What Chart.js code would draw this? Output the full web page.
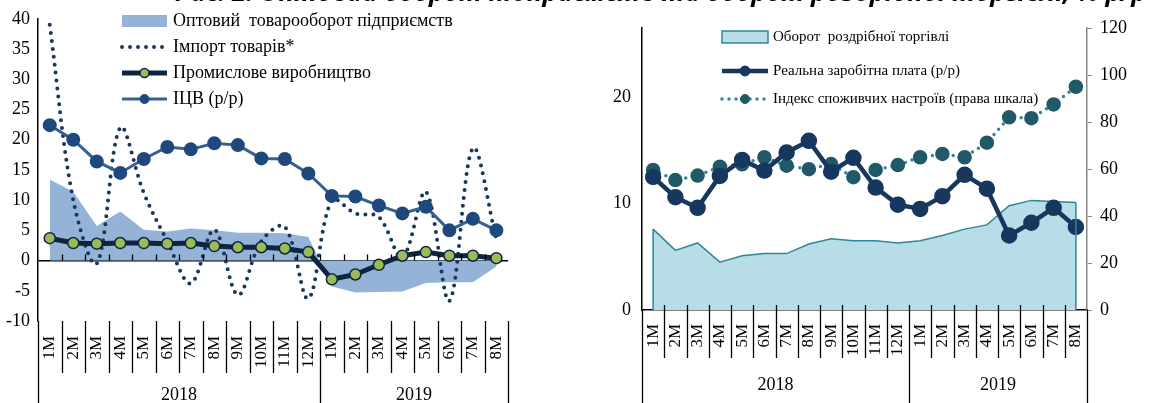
<!DOCTYPE html>
<html>
<head>
<meta charset="utf-8">
<script src="https://cdn.jsdelivr.net/npm/chart.js@4"></script>
<style>
  body { margin: 0; width: 1168px; height: 403px; overflow: hidden; background: #fff; position: relative; }
  #left { position: absolute; left: 0; top: 0; width: 532px; height: 403px; }
  #right { position: absolute; left: 600px; top: 0; width: 568px; height: 403px; }
  #title { position: absolute; left: 175px; top: -26px; white-space: nowrap;
           font: italic bold 25.5px "Open Sans", "DejaVu Sans", sans-serif; color: #000; }
</style>
</head>
<body>
<div id="left"><canvas id="c1"></canvas></div>
<div id="right"><canvas id="c2"></canvas></div>
<div id="title">Рис. 2. Оптовий оборот підприємств та оборот роздрібної торгівлі, % р/р</div>
<script>
// categories
const months = ['1M','2M','3M','4M','5M','6M','7M','8M','9M','10M','11M','12M',
                '1M','2M','3M','4M','5M','6M','7M','8M'];
const years = ['2018', '2019'];
const yearCounts = [12, 8];

// left chart, % y/y
const wholesale  = [13.4, 11.4, 5.7, 8.1, 5.1, 4.8, 5.3, 5.0, 4.6, 4.6, 4.5, 3.9, -4.3, -5.3, -5.2, -5.1, -3.7, -3.6, -3.6, -1.0];
const imports    = [39.0, 10.0, -0.5, 22.0, 11.2, 3.2, -3.8, 5.1, -5.7, 3.2, 5.6, -6.3, 10.0, 7.8, 7.2, 0.5, 11.4, -6.7, 18.6, 3.5];
const industrial = [3.7, 2.9, 2.8, 2.9, 2.9, 2.8, 2.9, 2.4, 2.2, 2.2, 2.0, 1.4, -3.1, -2.3, -0.7, 0.8, 1.4, 0.8, 0.8, 0.4];
const ppi        = [22.4, 20.0, 16.4, 14.5, 16.8, 18.8, 18.4, 19.4, 19.1, 16.9, 16.8, 14.4, 10.7, 10.6, 9.1, 7.8, 8.9, 5.0, 6.9, 5.0];

// right chart
const retail    = [7.6, 5.6, 6.3, 4.5, 5.1, 5.3, 5.3, 6.2, 6.7, 6.5, 6.5, 6.3, 6.5, 7.0, 7.6, 8.0, 9.8, 10.3, 10.2, 10.1];
const wages     = [12.5, 10.6, 9.6, 12.6, 14.1, 13.1, 14.8, 15.9, 13.0, 14.3, 11.5, 9.9, 9.5, 10.7, 12.7, 11.4, 7.0, 8.2, 9.6, 7.8];
const sentiment = [59.6, 55.3, 57.2, 61.0, 62.0, 65.0, 61.4, 59.9, 62.1, 56.5, 59.6, 61.7, 65.0, 66.4, 65.0, 71.2, 82.0, 81.6, 87.5, 95.0];

const serif = 'Liberation Serif';

// category separators, tick marks on the zero line and year labels
const catAxis = {
  id: 'catAxis',
  afterDraw(chart, args, o) {
    const { ctx, chartArea, scales } = chart;
    const x = scales.x;
    const y0 = scales[o.zeroScale].getPixelForValue(0);
    const n = chart.data.labels.length;
    const edges = [0];
    yearCounts.forEach(c => edges.push(edges[edges.length - 1] + c));
    ctx.save();
    ctx.strokeStyle = '#000';
    ctx.lineWidth = 1.3;
    for (let i = 0; i <= n; i++) {
      const px = Math.round(x.getPixelForValue(i - 0.5)) + 0.5;
      const isYear = edges.includes(i);
      ctx.beginPath();
      ctx.moveTo(px, chartArea.bottom);
      ctx.lineTo(px, isYear ? chart.height : chartArea.bottom + o.sepLen);
      if (i > 0 && i < n) {
        ctx.moveTo(px, y0);
        ctx.lineTo(px, y0 - o.tickUp);
      }
      ctx.stroke();
    }
    ctx.font = '18px "' + serif + '"';
    ctx.textAlign = 'center';
    ctx.textBaseline = 'middle';
    ctx.fillStyle = '#000';
    for (let k = 0; k < years.length; k++) {
      const xa = x.getPixelForValue(edges[k] - 0.5);
      const xb = x.getPixelForValue(edges[k + 1] - 0.5);
      ctx.fillText(years[k], (xa + xb) / 2, o.yearY);
    }
    ctx.restore();
  }
};

// closing edges of bordered area series, down to zero
const areaEdges = {
  id: 'areaEdges',
  afterDatasetsDraw(chart) {
    const ctx = chart.ctx;
    chart.data.datasets.forEach((ds, i) => {
      if (!ds.fill || !ds.borderWidth) return;
      const meta = chart.getDatasetMeta(i);
      const y0 = chart.scales[meta.yAxisID].getPixelForValue(0);
      const pts = [meta.data[0], meta.data[meta.data.length - 1]];
      ctx.save();
      ctx.strokeStyle = ds.borderColor;
      ctx.lineWidth = ds.borderWidth;
      pts.forEach(p => {
        ctx.beginPath();
        ctx.moveTo(p.x, p.y);
        ctx.lineTo(p.x, y0);
        ctx.stroke();
      });
      ctx.restore();
    });
  }
};

// legend drawn from the dataset styles
const boxLegend = {
  id: 'boxLegend',
  afterDraw(chart, args, o) {
    const ctx = chart.ctx;
    ctx.save();
    chart.data.datasets.forEach((ds, i) => {
      const y = o.rows[i];
      const x0 = o.x, x1 = o.x + o.sample, xm = (x0 + x1) / 2;
      if (ds.fill) {
        ctx.fillStyle = ds.backgroundColor;
        ctx.fillRect(x0, y - 6, o.sample, 12);
        if (ds.borderWidth) {
          ctx.strokeStyle = ds.borderColor;
          ctx.lineWidth = ds.borderWidth;
          ctx.strokeRect(x0, y - 6, o.sample, 12);
        }
      } else {
        ctx.strokeStyle = ds.borderColor;
        ctx.lineWidth = ds.borderWidth;
        ctx.lineCap = ds.borderCapStyle || 'butt';
        ctx.setLineDash(ds.borderDash || []);
        ctx.beginPath();
        ctx.moveTo(x0, y);
        ctx.lineTo(x1, y);
        ctx.stroke();
        ctx.setLineDash([]);
        if (ds.pointRadius) {
          ctx.beginPath();
          ctx.arc(xm, y, ds.pointRadius - 1, 0, Math.PI * 2);
          ctx.fillStyle = ds.pointBackgroundColor;
          ctx.fill();
          ctx.lineWidth = ds.pointBorderWidth || 1;
          ctx.strokeStyle = ds.pointBorderColor;
          ctx.stroke();
        }
      }
      ctx.font = o.font;
      ctx.fillStyle = '#000';
      ctx.textAlign = 'left';
      ctx.textBaseline = 'middle';
      ctx.fillText(ds.label, o.textX, y);
    });
    ctx.restore();
  }
};

// left: wholesale, imports, industry, PPI
new Chart(document.getElementById('c1'), {
  type: 'line',
  data: {
    labels: months,
    datasets: [
      { label: 'Оптовий  товарооборот підприємств', data: wholesale, fill: 'origin',
        backgroundColor: '#95B3D7', borderWidth: 0, pointRadius: 0, order: 4 },
      { label: 'Імпорт товарів*', data: imports, fill: false, borderColor: '#17375E',
        borderWidth: 4, borderDash: [0, 8], borderCapStyle: 'round', pointRadius: 0, tension: 0.35, order: 3 },
      { label: 'Промислове виробництво', data: industrial, fill: false, borderColor: '#0F243E',
        borderWidth: 5, pointRadius: 5.5, pointBackgroundColor: '#9BBB59', pointBorderColor: '#0F243E',
        pointBorderWidth: 1.5, order: 1 },
      { label: 'ІЦВ (р/р)', data: ppi, fill: false, borderColor: '#376092', borderWidth: 3,
        pointRadius: 5.5, pointBackgroundColor: '#1F497D', pointBorderColor: '#1F497D', order: 2 }
    ]
  },
  options: {
    responsive: true,
    maintainAspectRatio: false,
    animation: false,
    layout: { padding: { top: 18, right: 0, left: 0, bottom: 0 } },
    plugins: {
      legend: { display: false },
      tooltip: { enabled: false },
      catAxis: { zeroScale: 'y', sepLen: 52, tickUp: 6, yearY: 395 },
      boxLegend: { x: 122, textX: 173, sample: 45, rows: [21, 47, 73, 99], font: '18px "' + serif + '"' }
    },
    scales: {
      x: {
        offset: true,
        grid: { display: true, color: 'transparent', drawTicks: false, offset: true },
        border: { display: false },
        ticks: { autoSkip: false, maxRotation: 90, minRotation: 90, padding: 15, color: '#000',
                 font: { family: serif, size: 17 } },
        afterFit(s) { s.height = 82; }
      },
      y: {
        min: -10, max: 40,
        ticks: { stepSize: 5, padding: 8, color: '#000', font: { family: serif, size: 18 } },
        grid: { drawTicks: false, lineWidth: 1.5, color: c => c.tick && c.tick.value === 0 ? '#000' : 'transparent' },
        border: { display: true, color: '#000', width: 1.5 },
        afterFit(s) { s.width = 38; }
      }
    }
  },
  plugins: [catAxis, boxLegend]
});

// right: retail turnover, real wages, consumer sentiment
new Chart(document.getElementById('c2'), {
  type: 'line',
  data: {
    labels: months,
    datasets: [
      { label: 'Оборот  роздрібної торгівлі', data: retail, yAxisID: 'y', fill: 'origin',
        backgroundColor: '#B7DEE8', borderColor: '#31859C', borderWidth: 1.5, pointRadius: 0, order: 3 },
      { label: 'Реальна заробітна плата (р/р)', data: wages, yAxisID: 'y', fill: false,
        borderColor: '#17375E', borderWidth: 4.5, pointRadius: 6, pointBackgroundColor: '#17375E',
        pointBorderColor: '#17375E', order: 1 },
      { label: 'Індекс споживчих настроїв (права шкала)', data: sentiment, yAxisID: 'y1', fill: false,
        borderColor: '#31859C', borderWidth: 3.5, borderDash: [0, 7], borderCapStyle: 'round',
        pointRadius: 5.5, pointBackgroundColor: '#215968', pointBorderColor: '#215968', order: 2 }
    ]
  },
  options: {
    responsive: true,
    maintainAspectRatio: false,
    animation: false,
    layout: { padding: { top: 28, right: 0, left: 0, bottom: 0 } },
    plugins: {
      legend: { display: false },
      tooltip: { enabled: false },
      catAxis: { zeroScale: 'y', sepLen: 48, tickUp: 5, yearY: 385 },
      boxLegend: { x: 122, textX: 173, sample: 46, rows: [37, 71, 99], font: '15px "' + serif + '"' }
    },
    scales: {
      x: {
        offset: true,
        grid: { display: true, color: 'transparent', drawTicks: false, offset: true },
        border: { display: true, color: '#000', width: 1.5 },
        ticks: { autoSkip: false, maxRotation: 90, minRotation: 90, padding: 14, color: '#000',
                 font: { family: serif, size: 17 } },
        afterFit(s) { s.height = 93; }
      },
      y: {
        position: 'left', min: 0, max: 26.5,
        ticks: { stepSize: 10, includeBounds: false, padding: 11, color: '#000', font: { family: serif, size: 18 } },
        grid: { display: true, color: 'transparent', drawTicks: false },
        border: { display: true, color: '#000', width: 1.5 },
        afterFit(s) { s.width = 42; }
      },
      y1: {
        position: 'right', min: 0, max: 120,
        ticks: { stepSize: 20, padding: 8, color: '#000', font: { family: serif, size: 18 } },
        grid: { drawOnChartArea: false, drawTicks: true, tickLength: 5, color: '#888' },
        border: { display: true, color: '#888', width: 1.5 },
        afterFit(s) { s.width = 81; }
      }
    }
  },
  plugins: [areaEdges, catAxis, boxLegend]
});
</script>
</body>
</html>
